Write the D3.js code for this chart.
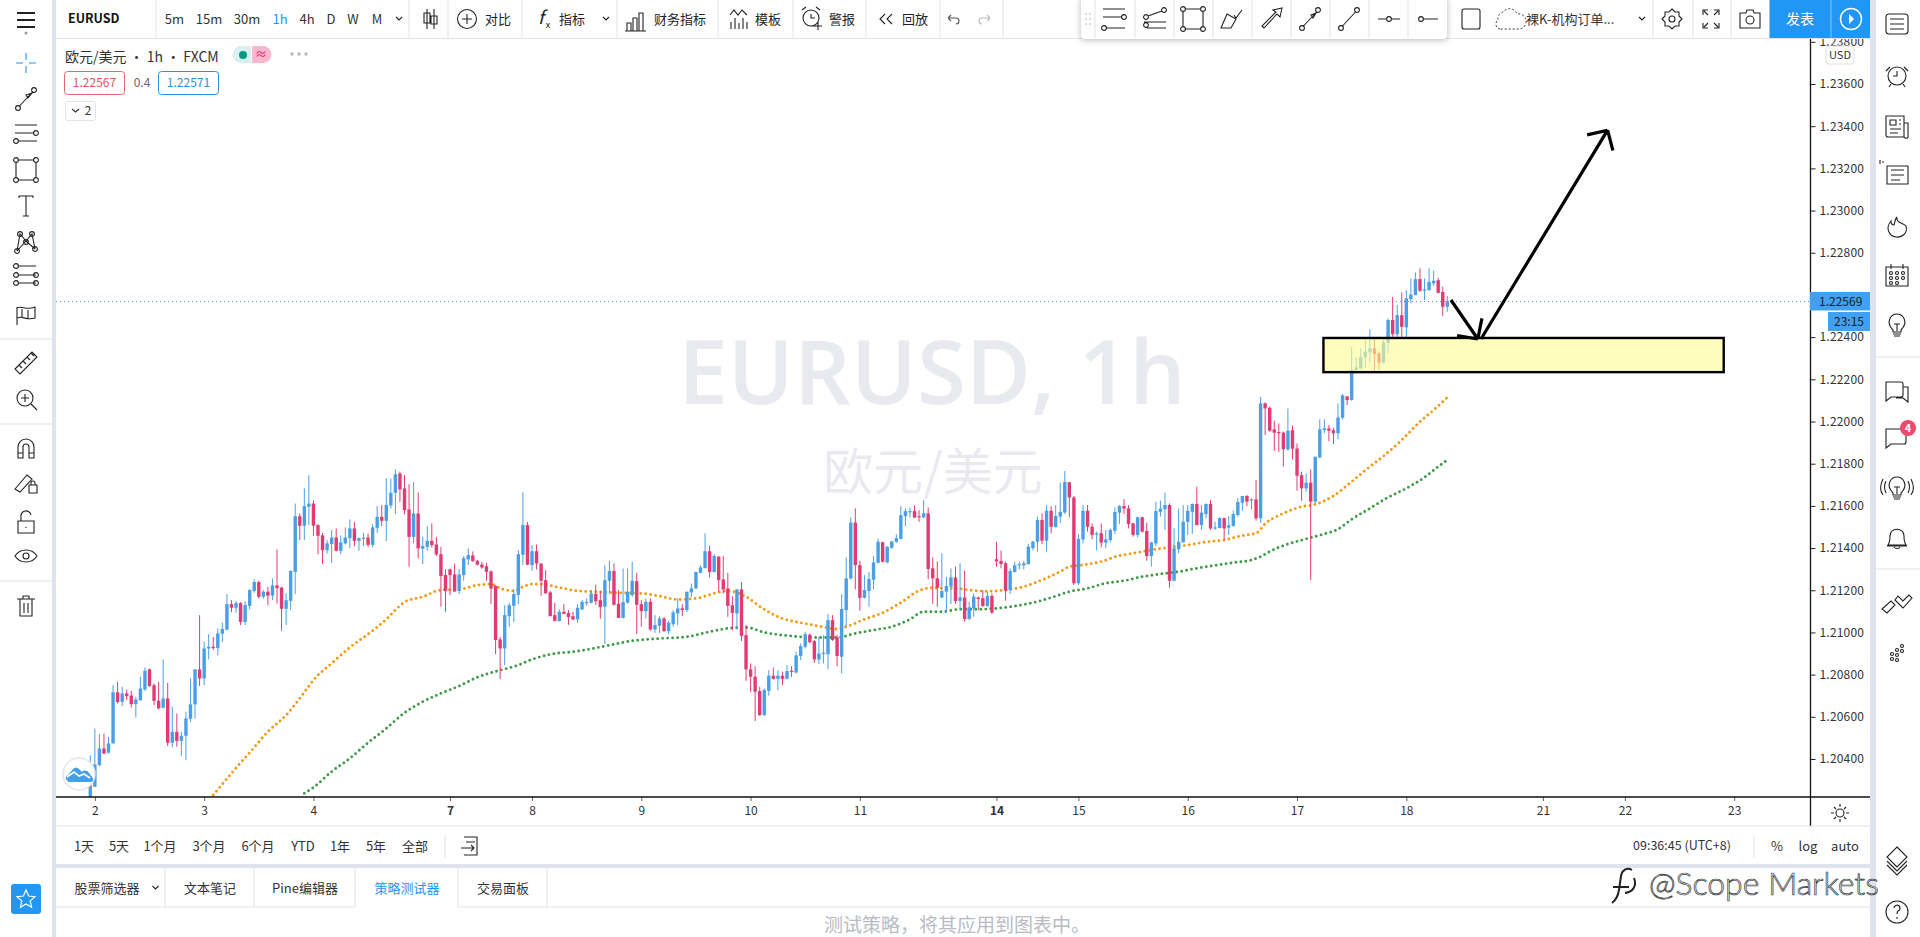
<!DOCTYPE html>
<html>
<head>
<meta charset="utf-8">
<title>EURUSD 1h</title>
<script src="https://cdn.jsdelivr.net/npm/d3@7"></script>
<style>
  html, body { margin: 0; padding: 0; background: #fff; overflow: hidden; }
  text { font-family: "Noto Sans CJK SC", Roboto, sans-serif; fill: #222; }
</style>
</head>
<body>
<svg id="chart" width="1920" height="937"></svg>
<script>
"use strict";

// one value per hourly bar
var opens = [
1.20174,1.20268,1.20371,1.20450,1.20430,1.20474,1.20716,1.20671,1.20711,1.20701,
1.20660,1.20679,1.20730,1.20825,1.20750,1.20676,1.20643,1.20687,1.20477,1.20529,
1.20486,1.20510,1.20591,1.20659,1.20825,1.20782,1.20924,1.20932,1.20926,1.20994,
1.21013,1.21134,1.21117,1.21139,1.21049,1.21126,1.21197,1.21239,1.21169,1.21193,
1.21175,1.21223,1.21213,1.21112,1.21150,1.21287,1.21551,1.21506,1.21596,1.21611,
1.21509,1.21460,1.21390,1.21419,1.21450,1.21387,1.21422,1.21447,1.21493,1.21434,
1.21444,1.21450,1.21415,1.21496,1.21548,1.21529,1.21602,1.21662,1.21754,1.21683,
1.21583,1.21453,1.21564,1.21397,1.21406,1.21434,1.21417,1.21371,1.21272,1.21299,
1.21275,1.21197,1.21272,1.21346,1.21365,1.21340,1.21322,1.21314,1.21289,1.21220,
1.20967,1.20924,1.21077,1.21126,1.21178,1.21368,1.21509,1.21319,1.21385,1.21327,
1.21248,1.21190,1.21082,1.21054,1.21098,1.21092,1.21077,1.21062,1.21109,1.21139,
1.21141,1.21183,1.21153,1.21122,1.21245,1.21291,1.21136,1.21069,1.21141,1.21177,
1.21243,1.21134,1.21101,1.21145,1.21014,1.21032,1.21066,1.21006,1.21039,1.21090,
1.21114,1.21106,1.21190,1.21209,1.21283,1.21305,1.21385,1.21287,1.21359,1.21251,
1.21209,1.21129,1.21090,1.21204,1.20987,1.20825,1.20790,1.20722,1.20608,1.20723,
1.20795,1.20780,1.20795,1.20780,1.20818,1.20810,1.20888,1.20932,1.20989,1.20959,
1.20872,1.20897,1.20897,1.21058,1.20976,1.20885,1.21106,1.21256,1.21521,1.21319,
1.21164,1.21197,1.21250,1.21330,1.21428,1.21332,1.21401,1.21430,1.21444,1.21551,
1.21570,1.21575,1.21551,1.21546,1.21565,1.21304,1.21257,1.21166,1.21193,1.21217,
1.21261,1.21149,1.21166,1.21064,1.21114,1.21166,1.21162,1.21125,1.21173,1.21347,
1.21339,1.21328,1.21201,1.21287,1.21318,1.21318,1.21324,1.21400,1.21430,1.21533,
1.21435,1.21577,1.21500,1.21549,1.21569,1.21712,1.21640,1.21233,1.21441,1.21577,
1.21501,1.21467,1.21470,1.21426,1.21438,1.21482,1.21568,1.21599,1.21588,1.21517,
1.21462,1.21546,1.21481,1.21362,1.21422,1.21572,1.21584,1.21604,1.21245,1.21394,
1.21427,1.21524,1.21572,1.21609,1.21509,1.21561,1.21609,1.21493,1.21495,1.21542,
1.21497,1.21505,1.21557,1.21615,1.21647,1.21626,1.21631,1.21541,1.22086,1.22065,
1.21963,1.21950,1.21947,1.21868,1.21959,1.21872,1.21746,1.21683,1.21710,1.21620,
1.21830,1.21959,1.21967,1.21959,1.21944,1.22018,1.22119,1.22102,1.22244,1.22252,
1.22304,1.22328,1.22347,1.22323,1.22279,1.22373,1.22481,1.22414,1.22504,1.22446,
1.22580,1.22599,1.22675,1.22620,1.22623,1.22655,1.22670,1.22614,1.22544];

var highs = [
1.20418,1.20545,1.20518,1.20521,1.20505,1.20750,1.20766,1.20742,1.20730,1.20723,
1.20695,1.20790,1.20834,1.20829,1.20758,1.20766,1.20872,1.20761,1.20648,1.20616,
1.20529,1.20624,1.20782,1.20825,1.21082,1.20956,1.20992,1.20979,1.21019,1.21046,
1.21182,1.21153,1.21150,1.21144,1.21147,1.21204,1.21251,1.21245,1.21201,1.21216,
1.21256,1.21393,1.21216,1.21185,1.21295,1.21611,1.21564,1.21683,1.21746,1.21627,
1.21513,1.21472,1.21438,1.21485,1.21493,1.21460,1.21498,1.21536,1.21524,1.21450,
1.21472,1.21469,1.21513,1.21599,1.21604,1.21730,1.21730,1.21773,1.21762,1.21746,
1.21703,1.21714,1.21664,1.21453,1.21504,1.21517,1.21453,1.21406,1.21299,1.21303,
1.21327,1.21299,1.21362,1.21398,1.21384,1.21343,1.21335,1.21330,1.21295,1.21224,
1.20979,1.21129,1.21141,1.21204,1.21390,1.21664,1.21524,1.21414,1.21417,1.21327,
1.21295,1.21197,1.21142,1.21109,1.21134,1.21106,1.21098,1.21134,1.21153,1.21161,
1.21201,1.21227,1.21196,1.21319,1.21340,1.21327,1.21201,1.21303,1.21303,1.21335,
1.21283,1.21153,1.21161,1.21161,1.21082,1.21077,1.21074,1.21055,1.21106,1.21161,
1.21134,1.21193,1.21232,1.21287,1.21319,1.21469,1.21411,1.21371,1.21362,1.21362,
1.21283,1.21172,1.21205,1.21239,1.21035,1.20853,1.20840,1.20742,1.20735,1.20821,
1.20834,1.20821,1.20814,1.20845,1.20840,1.20908,1.20948,1.21003,1.20995,1.20964,
1.20979,1.20987,1.21087,1.21082,1.20987,1.21182,1.21355,1.21545,1.21588,1.21340,
1.21272,1.21287,1.21362,1.21445,1.21430,1.21409,1.21434,1.21466,1.21599,1.21588,
1.21592,1.21602,1.21580,1.21628,1.21593,1.21356,1.21336,1.21375,1.21264,1.21304,
1.21312,1.21328,1.21293,1.21146,1.21185,1.21170,1.21201,1.21193,1.21185,1.21430,
1.21388,1.21336,1.21304,1.21336,1.21336,1.21340,1.21419,1.21435,1.21549,1.21565,
1.21604,1.21599,1.21604,1.21710,1.21765,1.21713,1.21647,1.21467,1.21604,1.21604,
1.21517,1.21478,1.21517,1.21486,1.21493,1.21593,1.21604,1.21631,1.21604,1.21520,
1.21549,1.21549,1.21520,1.21430,1.21620,1.21625,1.21663,1.21612,1.21493,1.21588,
1.21604,1.21604,1.21612,1.21691,1.21604,1.21612,1.21628,1.21525,1.21546,1.21544,
1.21552,1.21577,1.21636,1.21647,1.21651,1.21636,1.21723,1.22117,1.22091,1.22070,
1.22004,1.21991,1.21952,1.22062,1.21982,1.21896,1.21762,1.21754,1.21773,1.21833,
1.22010,1.22010,1.21983,1.21970,1.22086,1.22130,1.22121,1.22354,1.22304,1.22347,
1.22389,1.22437,1.22399,1.22331,1.22386,1.22489,1.22591,1.22552,1.22612,1.22623,
1.22678,1.22707,1.22726,1.22678,1.22726,1.22715,1.22681,1.22639,1.22595];

var lows = [
1.20174,1.20268,1.20366,1.20423,1.20426,1.20474,1.20663,1.20651,1.20679,1.20644,
1.20597,1.20676,1.20723,1.20742,1.20655,1.20635,1.20640,1.20461,1.20455,1.20458,
1.20414,1.20395,1.20577,1.20592,1.20746,1.20750,1.20872,1.20916,1.20892,1.20956,
1.21011,1.21096,1.21093,1.21035,1.21035,1.21109,1.21188,1.21161,1.21160,1.21128,
1.21153,1.21137,1.21008,1.21035,1.21106,1.21182,1.21438,1.21438,1.21509,1.21457,
1.21371,1.21324,1.21374,1.21330,1.21384,1.21371,1.21417,1.21400,1.21409,1.21387,
1.21409,1.21406,1.21403,1.21472,1.21504,1.21433,1.21588,1.21561,1.21619,1.21561,
1.21311,1.21422,1.21351,1.21324,1.21387,1.21403,1.21362,1.21122,1.21098,1.21177,
1.21193,1.21182,1.21245,1.21319,1.21335,1.21318,1.21302,1.21245,1.21134,1.20897,
1.20779,1.20845,1.21027,1.21050,1.21134,1.21319,1.21319,1.21292,1.21299,1.21174,
1.21185,1.21077,1.21052,1.21051,1.21087,1.21036,1.21058,1.21046,1.21106,1.21128,
1.21137,1.21131,1.21066,1.20945,1.21185,1.21128,1.21068,1.21066,1.21137,1.21169,
1.20992,1.21027,1.21066,1.21008,1.20998,1.20998,1.21003,1.20992,1.21027,1.21035,
1.21077,1.21096,1.21169,1.21205,1.21280,1.21303,1.21261,1.21284,1.21193,1.21185,
1.21074,1.21011,1.21014,1.20960,1.20771,1.20719,1.20580,1.20605,1.20605,1.20700,
1.20777,1.20727,1.20750,1.20777,1.20790,1.20806,1.20869,1.20924,1.20948,1.20856,
1.20850,1.20853,1.20825,1.20960,1.20840,1.20806,1.21027,1.21251,1.21204,1.21103,
1.21161,1.21122,1.21204,1.21327,1.21332,1.21327,1.21398,1.21425,1.21441,1.21504,
1.21545,1.21542,1.21524,1.21541,1.21252,1.21135,1.21122,1.21162,1.21094,1.21135,
1.21135,1.21106,1.21051,1.21059,1.21075,1.21106,1.21122,1.21122,1.21087,1.21312,
1.21304,1.21151,1.21182,1.21283,1.21299,1.21299,1.21321,1.21388,1.21383,1.21419,
1.21383,1.21470,1.21497,1.21520,1.21561,1.21546,1.21225,1.21225,1.21422,1.21478,
1.21441,1.21388,1.21403,1.21399,1.21426,1.21467,1.21514,1.21561,1.21493,1.21454,
1.21451,1.21473,1.21340,1.21312,1.21410,1.21549,1.21486,1.21212,1.21242,1.21375,
1.21426,1.21462,1.21467,1.21508,1.21486,1.21541,1.21486,1.21486,1.21493,1.21438,
1.21462,1.21501,1.21549,1.21577,1.21599,1.21584,1.21530,1.21520,1.21936,1.21952,
1.21861,1.21855,1.21786,1.21861,1.21820,1.21672,1.21624,1.21667,1.21248,1.21612,
1.21825,1.21944,1.21907,1.21893,1.21915,1.22010,1.22078,1.22098,1.22241,1.22247,
1.22256,1.22283,1.22241,1.22244,1.22275,1.22323,1.22402,1.22402,1.22402,1.22394,
1.22560,1.22599,1.22615,1.22576,1.22620,1.22644,1.22607,1.22500,1.22520];

var closes = [
1.20276,1.20374,1.20450,1.20426,1.20474,1.20716,1.20670,1.20711,1.20698,1.20660,
1.20682,1.20734,1.20818,1.20746,1.20676,1.20640,1.20687,1.20477,1.20529,1.20486,
1.20510,1.20592,1.20659,1.20825,1.20782,1.20924,1.20932,1.20926,1.20995,1.21016,
1.21134,1.21117,1.21139,1.21050,1.21130,1.21201,1.21239,1.21169,1.21193,1.21174,
1.21223,1.21210,1.21112,1.21153,1.21291,1.21551,1.21506,1.21599,1.21611,1.21506,
1.21458,1.21390,1.21422,1.21450,1.21387,1.21427,1.21450,1.21493,1.21434,1.21447,
1.21450,1.21415,1.21498,1.21548,1.21529,1.21604,1.21662,1.21750,1.21678,1.21580,
1.21453,1.21564,1.21398,1.21409,1.21434,1.21414,1.21370,1.21267,1.21197,1.21272,
1.21194,1.21275,1.21352,1.21367,1.21338,1.21321,1.21308,1.21287,1.21208,1.20964,
1.20924,1.21082,1.21129,1.21182,1.21371,1.21509,1.21321,1.21385,1.21327,1.21245,
1.21185,1.21077,1.21055,1.21098,1.21088,1.21073,1.21062,1.21117,1.21145,1.21144,
1.21185,1.21148,1.21120,1.21248,1.21291,1.21131,1.21069,1.21144,1.21193,1.21245,
1.21131,1.21101,1.21145,1.21014,1.21035,1.21066,1.21006,1.21046,1.21095,1.21114,
1.21106,1.21193,1.21209,1.21287,1.21308,1.21385,1.21287,1.21362,1.21248,1.21204,
1.21126,1.21093,1.21204,1.20984,1.20825,1.20790,1.20719,1.20608,1.20727,1.20795,
1.20780,1.20795,1.20780,1.20817,1.20813,1.20891,1.20935,1.20992,1.20954,1.20872,
1.20900,1.20904,1.21058,1.20964,1.20888,1.21111,1.21256,1.21521,1.21319,1.21164,
1.21201,1.21253,1.21332,1.21430,1.21335,1.21406,1.21431,1.21447,1.21556,1.21575,
1.21575,1.21545,1.21548,1.21565,1.21301,1.21257,1.21212,1.21196,1.21220,1.21261,
1.21149,1.21166,1.21064,1.21119,1.21170,1.21159,1.21125,1.21173,1.21094,1.21337,
1.21324,1.21198,1.21291,1.21318,1.21324,1.21328,1.21407,1.21430,1.21533,1.21435,
1.21577,1.21501,1.21552,1.21572,1.21713,1.21640,1.21233,1.21443,1.21577,1.21501,
1.21462,1.21470,1.21426,1.21441,1.21486,1.21571,1.21599,1.21587,1.21514,1.21462,
1.21546,1.21478,1.21362,1.21427,1.21576,1.21587,1.21604,1.21245,1.21399,1.21430,
1.21525,1.21577,1.21609,1.21509,1.21568,1.21609,1.21493,1.21498,1.21542,1.21493,
1.21508,1.21561,1.21618,1.21647,1.21620,1.21631,1.21541,1.22086,1.22062,1.21956,
1.21947,1.21944,1.21869,1.21956,1.21871,1.21743,1.21683,1.21710,1.21620,1.21833,
1.21963,1.21967,1.21956,1.21944,1.22019,1.22124,1.22102,1.22244,1.22256,1.22304,
1.22331,1.22347,1.22320,1.22279,1.22375,1.22481,1.22414,1.22504,1.22449,1.22584,
1.22602,1.22675,1.22620,1.22626,1.22662,1.22667,1.22610,1.22544,1.22571];

// moving averages, read at the bar numbers next to them
var fastBars = [27,31,35,39,43,47,49,53,57,61,65,67,69,73,77,81,85,88,90,93,95,97,99,103,107,111,116,121,125,129,133,137,140,144,148,152,156,160,164,166,170,174,178,182,185,187,190,193,197,201,205,209,213,215,218,222,226,229,233,237,241,245,249,253,256,258,262,266,269,273,277,281,284,288,292,295,298];
var fastValues = [1.20229,1.20332,1.20430,1.20529,1.20608,1.20716,1.20774,1.20853,1.20929,1.20992,1.21062,1.21106,1.21144,1.21169,1.21201,1.21204,1.21224,1.21229,1.21209,1.21197,1.21216,1.21229,1.21229,1.21213,1.21197,1.21193,1.21188,1.21185,1.21172,1.21156,1.21161,1.21185,1.21197,1.21169,1.21109,1.21066,1.21046,1.21030,1.21016,1.21027,1.21062,1.21093,1.21141,1.21198,1.21212,1.21209,1.21209,1.21201,1.21195,1.21201,1.21217,1.21249,1.21288,1.21312,1.21320,1.21336,1.21364,1.21375,1.21391,1.21403,1.21414,1.21429,1.21438,1.21459,1.21470,1.21515,1.21564,1.21596,1.21607,1.21647,1.21715,1.21786,1.21836,1.21912,1.21999,1.22054,1.22114];

var slowBars = [47,49,53,57,61,65,69,73,77,81,85,88,90,94,97,101,107,113,119,125,131,136,140,144,148,152,156,160,164,168,172,176,180,183,187,191,195,199,203,207,211,215,219,223,227,231,235,239,243,247,251,255,257,259,263,267,271,274,277,281,285,289,293,296,298];
var slowValues = [1.20237,1.20265,1.20340,1.20403,1.20477,1.20545,1.20619,1.20671,1.20711,1.20746,1.20787,1.20809,1.20821,1.20845,1.20872,1.20896,1.20911,1.20935,1.20960,1.20971,1.20979,1.21003,1.21019,1.21024,1.21000,1.20987,1.20979,1.20976,1.20976,1.20995,1.21011,1.21027,1.21062,1.21098,1.21098,1.21110,1.21110,1.21114,1.21125,1.21141,1.21165,1.21193,1.21209,1.21233,1.21245,1.21264,1.21277,1.21288,1.21304,1.21318,1.21331,1.21343,1.21359,1.21383,1.21419,1.21443,1.21467,1.21489,1.21536,1.21588,1.21640,1.21683,1.21735,1.21786,1.21817];

var priceTicks = [1.204,1.206,1.208,1.21,1.212,1.214,1.216,1.218,1.22,1.222,1.224,1.226,1.228,1.23,1.232,1.234,1.236,1.238];
var dayLabels = ["2","3","4","7","8","9","10","11","14","15","16","17","18","21","22","23"];
var dayBars = [1,25,49,79,97,121,145,169,199,217,241,265,289,319,337,361];

var lastPrice = 1.22569;
var zoneBars = [270.8,358.7];
var zonePrices = [1.22396,1.22234];
var arrowBars = [[298.8,304.7],[305.4,333.2]];
var arrowPrices = [[1.22576,1.22391],[1.22391,1.23381]];

var BLUE = "#4a9fe6", RED = "#e23b74", STRIP = "#e0e3eb", TV = "#2196f3";

var svg = d3.select("#chart");
var x = d3.scaleLinear().domain([0,298]).range([90.3,1447.3]);
var y = d3.scaleLinear().domain([1.204,1.236]).range([759,84]);

svg.append("clipPath").attr("id","pane").append("rect")
    .attr("x",56).attr("y",39).attr("width",1754.5).attr("height",758);

function label(txt, px, py, size, color, anchor, weight) {
    return svg.append("text").attr("x",px).attr("y",py).attr("dy","0.35em")
        .attr("font-size",size).attr("text-anchor",anchor || "middle")
        .attr("font-weight",weight || 400).style("fill",color || "#222").text(txt);
}

// ---- chart pane
label("EURUSD, 1h", 932, 373, 89, "#e9eaef", "middle", 600).style("font-family","'Open Sans'");
label("欧元/美元", 933, 472, 50, "#e9eaef");

var pane = svg.append("g").attr("clip-path","url(#pane)");

pane.append("line").attr("x1",56).attr("x2",1810).attr("y1",y(lastPrice)).attr("y2",y(lastPrice))
    .attr("stroke","#4f9dc0").attr("stroke-dasharray","1 3");

var maLine = d3.line().curve(d3.curveMonotoneX);
function drawMa(bars, values, color) {
    pane.append("path")
        .attr("d", maLine(bars.map(function(b,i){ return [x(b), y(values[i])]; })))
        .attr("fill","none").attr("stroke",color).attr("stroke-width",2.9)
        .attr("stroke-linecap","round").attr("stroke-dasharray","0 5");
}
drawMa(fastBars, fastValues, "#f09a10");
drawMa(slowBars, slowValues, "#3f9a4a");

var bars = pane.selectAll("g.bar").data(d3.range(opens.length)).enter().append("g").attr("class","bar");
function barColor(i) { return closes[i] >= opens[i] ? BLUE : RED; }
bars.append("line")
    .attr("x1",function(i){ return x(i); }).attr("x2",function(i){ return x(i); })
    .attr("y1",function(i){ return y(highs[i]); }).attr("y2",function(i){ return y(lows[i]); })
    .attr("stroke",barColor).attr("stroke-width",1);
bars.append("rect")
    .attr("x",function(i){ return x(i)-1.7; }).attr("width",3.4)
    .attr("y",function(i){ return y(Math.max(opens[i],closes[i])); })
    .attr("height",function(i){ return Math.max(1.2, Math.abs(y(opens[i])-y(closes[i]))); })
    .attr("fill",barColor);

// yellow zone and hand drawn arrows
pane.append("rect")
    .attr("x",x(zoneBars[0])).attr("width",x(zoneBars[1])-x(zoneBars[0]))
    .attr("y",y(zonePrices[0])).attr("height",y(zonePrices[1])-y(zonePrices[0]))
    .attr("fill","rgba(255,253,150,0.62)").attr("stroke","#000").attr("stroke-width",2.4);

arrowBars.forEach(function(b,k) {
    var x0 = x(b[0]), x1 = x(b[1]), y0 = y(arrowPrices[k][0]), y1 = y(arrowPrices[k][1]);
    var back = Math.atan2(y0-y1, x0-x1), d = "M"+x0+" "+y0+"L"+x1+" "+y1;
    [-0.8,0.8].forEach(function(a) {
        d += "M"+(x1+21*Math.cos(back+a))+" "+(y1+21*Math.sin(back+a))+"L"+x1+" "+y1;
    });
    pane.append("path").attr("d",d).attr("fill","none").attr("stroke","#000").attr("stroke-width",3.2);
});

// logo bubble on the chart
svg.append("circle").attr("cx",79).attr("cy",774).attr("r",16).attr("fill","#fff").attr("stroke","#e6e6ea").attr("stroke-width",1.5);
svg.append("path").attr("d","M68 781c-3-1-3-5 0-6l5-6c2-2 4-2 6 0l3 3c2-2 5-2 7 1l3 4c2 2 1 5-1 5h-23z").attr("fill","#42a0e8");
svg.append("path").attr("d","M67 777l7-5 5 4 5-2 6 4").attr("fill","none").attr("stroke","#fff").attr("stroke-width",1.6);

// ---- axes
// the 1.22600 label sits behind the current price tag, so only its tick shows
var yAxis = d3.axisRight(y).tickValues(priceTicks)
    .tickFormat(function(d){ return d === 1.226 ? "" : d3.format(".5f")(d); }).tickSize(5).tickPadding(4);
var yG = svg.append("g").attr("transform","translate(1810.5,0)").call(yAxis);
yG.select(".domain").remove();
yG.selectAll("text").attr("font-size",12).style("fill","#333").style("letter-spacing","0.2px");
yG.selectAll("line").attr("stroke","#222");

var xAxis = d3.axisBottom(x).tickValues(dayBars)
    .tickFormat(function(d){ return dayLabels[dayBars.indexOf(d)]; }).tickSize(4).tickPadding(5);
var xG = svg.append("g").attr("transform","translate(0,797)").call(xAxis);
xG.select(".domain").remove();
xG.selectAll("text").attr("font-size",12).style("fill","#333");
xG.selectAll("line").attr("stroke","#666");
xG.selectAll("text").filter(function(d){ return d === 79 || d === 199; }).attr("font-weight",700);

svg.append("line").attr("x1",56).attr("x2",1870).attr("y1",797).attr("y2",797).attr("stroke","#111").attr("stroke-width",1.3);
svg.append("line").attr("x1",1810.5).attr("x2",1810.5).attr("y1",39).attr("y2",826).attr("stroke","#111").attr("stroke-width",1.3);

// current price tags
svg.append("rect").attr("x",1810).attr("y",292).attr("width",60).attr("height",18.5).attr("fill","#42a0f0");
label("1.22569",1819,301.5,12,"#123","start");
svg.append("rect").attr("x",1828).attr("y",312).attr("width",42).attr("height",19).attr("fill","#42a0f0");
label("23:15",1849,321.5,12,"#123");
svg.append("rect").attr("x",1826).attr("y",46).attr("width",28).attr("height",18).attr("rx",3).attr("fill","#fff").attr("stroke","#dfe1e8");
label("USD",1840,55,11,"#333");

// ---- legend over the chart
label("欧元/美元 · 1h · FXCM",65,57,14,"#333","start");
svg.append("path").attr("d","M241 46h10v17h-10a8.500 8.500 0 0 1 0-17z").attr("fill","#d9f0ee");
svg.append("path").attr("d","M252 46h11a8.500 8.500 0 0 1 0 17h-11z").attr("fill","#f9b6cf");
svg.append("circle").attr("cx",243).attr("cy",55).attr("r",4).attr("fill","#089981");
label("≈",261,55,12,"#d81b60");
[292,299,306].forEach(function(px){ svg.append("circle").attr("cx",px).attr("cy",54).attr("r",1.7).attr("fill","#b5b8c2"); });
svg.append("rect").attr("x",64.5).attr("y",71.5).attr("width",60).attr("height",23).attr("rx",3).attr("fill","#fff").attr("stroke","#e06a6a");
label("1.22567",94.5,83,12,"#e25555");
label("0.4",142,83,12,"#666");
svg.append("rect").attr("x",158.500).attr("y",71.5).attr("width",60).attr("height",23).attr("rx",3).attr("fill","#fff").attr("stroke","#2e8fdc");
label("1.22571",188.5,83,12,"#2e8fdc");
svg.append("rect").attr("x",65.5).attr("y",101.5).attr("width",30).attr("height",19).attr("rx",2).attr("fill","#fff").attr("stroke","#e0e3eb");
label("2",88,111,12,"#333");
svg.append("path").attr("d","M72 109l3.500 3 3.500-3").attr("fill","none").attr("stroke","#333").attr("stroke-width",1.2);

// ---- chrome
function band(px, py, w, h, fill) { svg.append("rect").attr("x",px).attr("y",py).attr("width",w).attr("height",h).attr("fill",fill); }
function rule(x1, y1, x2, y2) { svg.append("line").attr("x1",x1).attr("y1",y1).attr("x2",x2).attr("y2",y2).attr("stroke",STRIP); }
function dot(cx, cy, r) { r = r || 2.4; return "M"+(cx-r)+" "+cy+"a"+r+" "+r+" 0 1 0 "+(2*r)+" 0a"+r+" "+r+" 0 1 0 "+(-2*r)+" 0"; }
function icon(d, px, py, color, width) {
    return svg.append("path").attr("d",d).attr("transform","translate("+px+","+py+")")
        .attr("fill","none").attr("stroke",color || "#222").attr("stroke-width",width || 1.1);
}

band(0,0,1920,38.5,"#fff");
rule(0,38.5,1870,38.5);
band(0,0,52,797,"#fff");
band(52,0,4,937,STRIP);
band(1870,0,6,937,STRIP);
band(1876,0,44,937,"#fff");
band(56,826,1814,38,"#fff");
rule(56,826,1870,826);
band(56,864,1814,4,STRIP);

var topSeps = [156,409,448,522,617,718,793,866,940,1003,1653,1693,1731];
topSeps.forEach(function(px){ rule(px,0,px,38); });

var chevron = "M-3-2l3 3 3-3";
var chart = "M-9 11V3h4v8M-3 11V-2h4v13M3 11V-7h4v18M-11 11H10";

label("EURUSD",68,19,12.5,"#111","start",700);
var intervalNames = ["5m","15m","30m","1h","4h","D","W","M"];
var intervalX = [174.5,209,247,280,307,331,353,377];
intervalNames.forEach(function(n,i){ label(n,intervalX[i],19,13,n === "1h" ? TV : "#333"); });
icon(chevron,399,19);
icon("M-3-10V10M4-10V10M-6-6h6v10h-6zM1-3h6v8h-6z",430,19);
icon(dot(0,0,9.5)+"M-5 0H5M0-5V5",467,19);
label("对比",498,19,13);
label("f",541,18,18,"#222").style("font-style","italic");
label("x",548,25,9,"#222");
label("指标",572,19,13);
icon(chevron,606,19);
icon(chart,636,20);
label("财务指标",680,19,13);
icon("M-8 10V3M-4 10V-1M0 10V4M4 10V-1M8 10V3M-9-4l4-5 4 5 4-5 5 5",739,19);
label("模板",768,19,13);
icon(dot(0,0,8)+"M0-4V0H4M-9-8l4-3M9-8l-4-3M3 8h8M7 4v8",811,18);
label("警报",842,19,13);
icon("M-2-5l-5 5 5 5M5-5l-5 5 5 5",887,19);
label("回放",915,19,13);
icon("M-5-1h8a3 3 0 0 1 0 6M-5-1l3-3M-5-1l3 3",953,19,"#555");
icon("M5-1h-8a3 3 0 0 0 0 6M5-1l-3-3M5-1l-3 3",985,19,"#bbb");

// floating drawing toolbar
svg.append("rect").attr("x",1081).attr("y",-3).attr("width",366).attr("height",42).attr("rx",4).attr("fill","#fff")
    .style("filter","drop-shadow(0 1px 3px rgba(40,45,70,0.35))");
[1095,1135,1174,1213,1252,1291,1330,1369,1408].forEach(function(px){ rule(px,0,px,38); });
[[1086,14],[1090,14],[1086,19],[1090,19],[1086,24],[1090,24]].forEach(function(p){ svg.append("circle").attr("cx",p[0]).attr("cy",p[1]).attr("r",1).attr("fill","#ccd"); });
var segment = dot(-8,9)+"M-6.500 7L6.500-7"+dot(8,-9);
icon("M-11-10H11M-11-2H8M-8 9H11"+dot(10,-2)+dot(-10,9),1114,19);
icon(dot(-9,-2)+dot(9,-9)+"M-7-3L7-8M-11 3H11M-8 9H11"+dot(-9,6),1155,19);
icon("M-8-10H8M10-8V8M8 10H-8M-10 8V-8"+dot(-10,-10)+dot(10,-10)+dot(-10,10)+dot(10,10),1193,19);
icon("M-11 9l6-14 9 5 -5 9zM2-4l2 3 6-8",1232,19);
icon("M-8 9l-2-2L4-7l-3-2 9-2-2 9-3-3z",1272,19);
icon(segment+"M3-1l3-5-5 2z",1310,19);
icon(segment,1349,19);
icon("M-11 0H-3"+dot(0,0)+"M3 0H11",1389,19);
icon(dot(-6,0)+"M-3 0H11",1427,19);
icon("M-7-9H7a2 2 0 0 1 2 2V9a2 2 0 0 1-2 2H-7a2 2 0 0 1-2-2V-7a2 2 0 0 1 2-2z",1471,18);
svg.append("path").attr("d","M-10 10a5 5 0 0 1-2-9 7 7 0 0 1 5-8 8 8 0 0 1 14 2 6 6 0 0 1 3 15z").attr("transform","translate(1510,19)")
    .attr("fill","none").attr("stroke","#333").attr("stroke-dasharray","2 2");
label("裸K-机构订单...",1526,19,13,"#333","start");
icon(chevron,1642,19);
icon(dot(0,0,3)+"M0-10l3 3h4v4l3 3-3 3v4h-4l-3 3-3-3h-4v-4l-3-3 3-3v-4h4z",1672,19);
icon("M-8-4V-9H-3M3-9H8V-4M8 4V9H3M-3 9H-8V4M-7-8l4 4M7-8l-4 4M7 8l-4-4M-7 8l4-4",1711,19);
icon("M-10-6H-4L-3-9H3L4-6H10V9H-10z"+dot(0,1,4),1750,19);

band(1769.5,0,100.5,38,"#2196f3");
label("发表",1800,19,14,"#fff");
svg.append("line").attr("x1",1831).attr("x2",1831).attr("y1",0).attr("y2",38).attr("stroke","#8cc8f8");
svg.append("circle").attr("cx",1851).attr("cy",19).attr("r",10.5).attr("fill","none").attr("stroke","#fff").attr("stroke-width",1.4);
svg.append("path").attr("d","M1849 14l5 5-5 5z").attr("fill","#fff");

// left tools
icon("M-9-7H9M-9 0H9M-9 7H9",26,20,"#222",2);
svg.append("circle").attr("cx",26).attr("cy",33).attr("r",1.5).attr("fill","#999");
var leftIcons = [
    ["M0-10V-3M0 3V10M-10 0H-3M3 0H10",63,TV],
    [segment+"M2-1l4-5-6 2z",99],
    ["M-11-8H11M-11 0H8M-8 8H11"+dot(10,0)+dot(-10,8),133],
    ["M-8-10H8M10-8V8M8 10H-8M-10 8V-8"+dot(-10,-10)+dot(10,-10)+dot(-10,10)+dot(10,10),170],
    ["M-7-8V-10H7V-8M0-10V10M-3 10H3",206],
    ["M-9 9L-6-8L0-1L6-8L9 7M-9 9L0-1L9 7"+dot(-6,-8)+dot(6,-8)+dot(-9,9)+dot(9,7)+dot(0,0),242],
    ["M-8-9H10M-8 0H10M-8 8H10"+dot(-10,-9)+dot(10,0)+dot(-10,0)+dot(-10,8)+dot(10,8),275],
    ["M-9-8V10M-9-7c5-3 9 3 18-1V3c-9 3-13-3-18 0M-4-6v8M2-5v8",315],
    ["M-11 6L6-11L11-6L-6 11zM-7 2l3 3M-3-2l3 3M1-6l3 3M5-10l3 3",363],
    [dot(-1,-1,8)+"M5 5l6 6M-5-1H3M-1-5V3",399],
    ["M-8 9V-2a8 8 0 0 1 16 0V9H3V-2a3 3 0 0 0-6 0V9zM-8 4H-3M3 4H8",449],
    ["M-11 6L1-8l5 4L-6 9zM3 2h8v8H3zM5 2V0a2 2 0 0 1 4 0V2",483],
    ["M-8-1H8V11H-8zM-5-1V-5a5 5 0 0 1 10-2M0 5v1",522],
    ["M-11 0C-6-8 6-8 11 0C6 8-6 8-11 0z"+dot(0,0,3),556],
    ["M-6-7V10H6V-7M-9-7H9M-3-7V-10H3V-7M-2-3V7M2-3V7",606]
];
leftIcons.forEach(function(k){ icon(k[0],26,k[1],k[2]); });
[339,424,581].forEach(function(py){ rule(0,py,52,py); });

// right tools
var rightIcons = [
    ["M-8-10H8a3 3 0 0 1 3 3V7a3 3 0 0 1-3 3H-8a3 3 0 0 1-3-3V-7a3 3 0 0 1 3-3zM-7-5H7M-7 0H7M-7 5H7",24],
    [dot(0,1,9)+"M0-4V1H-4M-6 9l-2 3M6 9l2 3M-11-4l4-4M11-4l-4-4",75],
    ["M-11-10H7V11H-9a2 2 0 0 1-2-2zM7-3H11V9a2 2 0 0 1-4 2M-7-6H-1V-1H-7zM2-6H4M2-2H4M-7 3H4M-7 7H1",126],
    ["M-10-7H11V11H-10zM-6-3H7M-6 2H7M-6 7H3M-15-11H-13M-17-13V-9",173],
    ["M0-10C-2-4 7-4 9-1C11 6 5 11-1 10C-8 9-12 1-6-6C-6-3-5-2-3-2C-2-5-2-8 0-10z",227],
    ["M-11-8H11V11H-11zM-6-11V-6M6-11V-6"+dot(-6,-2,1.5)+dot(0,-2,1.5)+dot(6,-2,1.5)+dot(-6,3,1.5)+dot(0,3,1.5)+dot(6,3,1.5)+dot(-6,8,1.5)+dot(0,8,1.5),275],
    ["M-4 5C-12-3-6-11 0-11C6-11 12-3 4 5V7H-4zM-4 9H4M-3 11H3M-3-1H3M0-1V6",325],
    ["M-11-8H4a2 2 0 0 1 2 2V5a2 2 0 0 1-2 2H-6L-11 11zM6-3H11V12L6 8H-1",390],
    ["M-11-8H7a2 2 0 0 1 2 2V5a2 2 0 0 1-2 2H-6L-11 11z",437],
    ["M-4 5C-12-3-6-11 0-11C6-11 12-3 4 5V7H-4zM-4 9H4M-3 11H3M0-1V6M-3-1H3M-11-7C-13-3-13 1-11 5M11-7C13-3 13 1 11 5M-14-9C-17-3-17 3-14 7M14-9C17-3 17 3 14 7",488],
    ["M-9 7C-7 4-7 1-7-2C-7-11 7-11 7-2C7 1 7 4 9 7H-9zM-10 8H10M-3 9C-2 11 2 11 3 9",538],
    ["M-15 7L-6-1L-2 3L-10 11zM-2-2L6 6L15-4L12-7L6-1L1-6z",602],
    [dot(-5,7,1.5)+dot(0,3,1.5)+dot(0,8,1.5)+dot(0,-2,1.5)+dot(5,-6,1.5)+dot(5,-1,1.5)+dot(-5,2,1.5),652],
    ["M0-11L10-1L0 9L-10-1zM-10 3L0 13L10 3M-10 7L0 17L10 7",858],
    [dot(0,0,11)+"M-3-4a3 3 0 1 1 4 3c-1 1-1 2-1 3M0 5v2",912]
];
rightIcons.forEach(function(k){ icon(k[0],1897,k[1]); });
[357,569].forEach(function(py){ rule(1876,py,1920,py); });
svg.append("circle").attr("cx",1908).attr("cy",428).attr("r",8).attr("fill","#ef4a6e");
label("4",1908,428,11,"#fff","middle",700);

// range row
var rangeNames = ["1天","5天","1个月","3个月","6个月","YTD","1年","5年","全部"];
var rangeX = [84,119,160,209,258,303,340,376,415];
rangeNames.forEach(function(n,i){ label(n,rangeX[i],846,13,"#333"); });
rule(445,835,445,858);
icon("M-6-9H7V9H-6M-9 2H4M1-1L4 2 1 5M-4-4H5",470,846);
label("09:36:45 (UTC+8)",1682,846,12.5,"#333");
rule(1754,835,1754,858);
label("%",1777,846,13,"#333");
label("log",1808,846,13,"#333");
label("auto",1845,846,13,"#333");
icon(dot(0,0,4)+"M0-9V-6M0 6V9M-9 0H-6M6 0H9M-6-6L-4-4M6-6L4-4M-6 6L-4 4M6 6L4 4",1840,813);

// tab row
rule(56,907,355,907);
rule(458,907,1870,907);
var tabNames = ["股票筛选器","文本笔记","Pine编辑器","策略测试器","交易面板"];
var tabX = [107,210,305,407,503];
tabNames.forEach(function(n,i){ label(n,tabX[i],888,13,i === 3 ? TV : "#333"); });
icon(chevron,155.5,888);
[165,254,355,458,547].forEach(function(px){ rule(px,868,px,907); });
svg.append("rect").attr("x",11).attr("y",884).attr("width",30).attr("height",30).attr("rx",3).attr("fill","#2196f3");
svg.append("path").attr("d","M26 890l2.600 6 6.400.6-4.800 4.300 1.400 6.300-5.600-3.300-5.600 3.300 1.400-6.300-4.800-4.300 6.400-.6z").attr("fill","none").attr("stroke","#fff").attr("stroke-width",1.2);
label("测试策略，将其应用到图表中。",957,925,19,"#b8bbc4");

// weibo mark over everything
svg.append("path").attr("d","M1632 870c-5-3-10 0-11 6l-2 14c-1 6-3 10-7 13M1613 887h16M1634 878c3 8-1 14-9 15")
    .attr("fill","none").attr("stroke","#222").attr("stroke-width",2);
label("@Scope Markets",1649,884,32,"#fff","start",300).style("font-family","Lato")
    .attr("stroke","#333").attr("stroke-width",0.7);
</script>
</body>
</html>
